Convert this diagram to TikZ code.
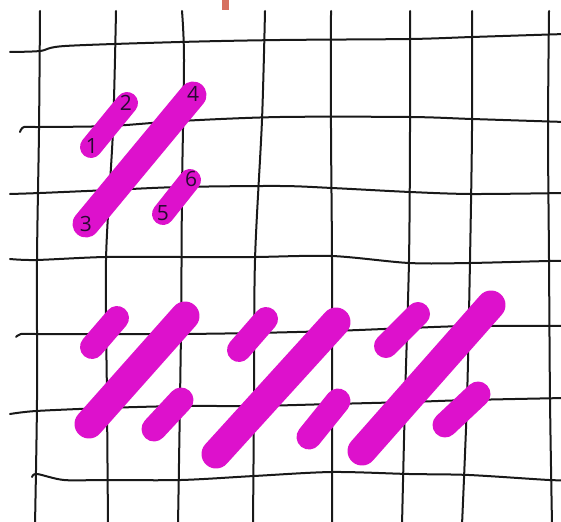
\documentclass[tikz,border=0pt]{standalone}
\usepackage{fontspec}
\setmainfont{Open Sans}
\definecolor{stitch}{RGB}{221,17,204}
\definecolor{gridink}{RGB}{25,25,25}
\definecolor{labelink}{RGB}{40,10,50}
\definecolor{markred}{RGB}{214,112,96}
\begin{document}
\begin{tikzpicture}[x=1pt,y=-1pt,
  gridline/.style={draw=gridink,line width=2pt,line cap=round,line join=round},
  shortst/.style={draw=stitch,line width=24pt,line cap=round},
  longst/.style={draw=stitch,line width=29pt,line cap=round},
  num/.style={text=labelink,font=\fontsize{21}{21}\selectfont,inner sep=0pt}]
\useasboundingbox (0,0) rectangle (561,521);
\fill[white] (0,0) rectangle (561,521);
\begin{scope}
\clip (0,0) rectangle (561,521);
% vertical grid lines
\draw[gridline] plot[smooth] coordinates {(40,11) (39,130) (37,260) (37,400) (35,525)};
\draw[gridline] plot[smooth] coordinates {(116,11) (113,130) (106,260) (107,400) (108,525)};
\draw[gridline] plot[smooth] coordinates {(182,11) (184,60) (182,190) (181,330) (178,525)};
\draw[gridline] plot[smooth] coordinates {(265,11) (262,120) (255,260) (254,400) (253,525)};
\draw[gridline] plot[smooth] coordinates {(331,11) (331,130) (332,260) (332,400) (332,525)};
\draw[gridline] plot[smooth] coordinates {(410,11) (410,130) (409,260) (405,400) (402,525)};
\draw[gridline] plot[smooth] coordinates {(472,11) (472,130) (470,260) (467,400) (462,525)};
\draw[gridline] plot[smooth] coordinates {(549,11) (548,130) (549,260) (550,400) (552,525)};
% horizontal grid lines
\draw[gridline] plot[smooth] coordinates {(10,52) (40,51) (65,46) (180,42) (280,40) (410,39) (472,37) (565,34)};
\draw[gridline] plot[smooth] coordinates {(20,132) (24,127) (40,127) (110,126) (180,121) (280,117) (410,117) (472,119) (565,122)};
\draw[gridline] plot[smooth] coordinates {(10,194) (40,193) (110,190) (180,187) (280,186) (332,188) (410,192) (472,194) (565,193)};
\draw[gridline] plot[smooth] coordinates {(10,259) (36,260) (105,257) (181,257) (254,257) (332,256) (409,263) (469,263) (549,261) (565,261)};
\draw[gridline] plot[smooth] coordinates {(16,337) (21,334) (36,334) (105,334) (181,334) (254,333) (332,331) (409,328) (469,326) (565,326)};
\draw[gridline] plot[smooth] coordinates {(10,414) (36,411) (105,408) (181,406) (254,406) (332,404) (409,402) (469,400) (565,398)};
\draw[gridline] plot[smooth] coordinates {(32,477) (37,474) (64,480) (105,480) (181,480) (254,476) (332,472) (409,474) (469,475) (549,480) (565,480)};
\end{scope}
% small mark at top
\fill[markred] (222,0) rectangle (229,10);
% top-left demonstration stitches
\coordinate (p1) at (91,147);
\coordinate (p2) at (127,103);
\coordinate (p3) at (86,224);
\coordinate (p4) at (193,95);
\coordinate (p5) at (163,214);
\coordinate (p6) at (190,180);
\draw[shortst,line width=22pt] (p1) -- (p2);
\draw[longst,line width=27pt] (p3) -- (p4);
\draw[shortst,line width=22pt] (p5) -- (p6);
\node[num] (n1) at (92,146) {1};
\node[num] (n2) at (126,103) {2};
\node[num] (n3) at (86,224) {3};
\node[num] (n4) at (193,94) {4};
\node[num] (n5) at (163,213) {5};
\node[num] (n6) at (191,179) {6};
% bottom rows of stitches
\coordinate (a1) at (92,347);  \coordinate (a2) at (117,318);
\coordinate (b1) at (89,424);  \coordinate (b2) at (185,316);
\coordinate (c1) at (154,429); \coordinate (c2) at (181,400);
\coordinate (d1) at (239,350); \coordinate (d2) at (266,319);
\coordinate (e1) at (216,454); \coordinate (e2) at (336,322);
\coordinate (f1) at (309,437); \coordinate (f2) at (338,401);
\coordinate (g1) at (386,346); \coordinate (g2) at (418,314);
\coordinate (h1) at (362,451); \coordinate (h2) at (491,305);
\coordinate (k1) at (445,425); \coordinate (k2) at (478,394);
\draw[shortst] (a1) -- (a2);
\draw[longst] (b1) -- (b2);
\draw[shortst,line width=25pt] (c1) -- (c2);
\draw[shortst] (d1) -- (d2);
\draw[longst] (e1) -- (e2);
\draw[shortst,line width=25pt] (f1) -- (f2);
\draw[shortst] (g1) -- (g2);
\draw[longst] (h1) -- (h2);
\draw[shortst,line width=25pt] (k1) -- (k2);
\end{tikzpicture}
\end{document}
